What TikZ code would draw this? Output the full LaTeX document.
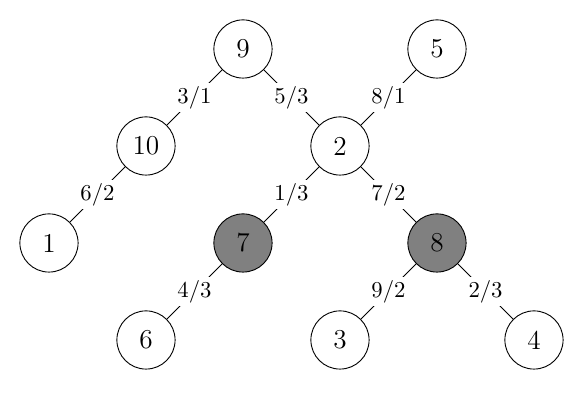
\documentclass[tikz,border=0pt]{standalone}
\usepackage{tikz}
\usepackage{xcolor}

\begin{document}
\begin{tikzpicture}[scale=1.5,
  vertex/.style={draw, circle, minimum size=0.9cm, inner sep=0pt, font=\large},
  marked/.style={vertex, fill=gray},
  weight/.style={fill=white, inner sep=1.5pt, midway}]

\useasboundingbox (-0.505,-1.619) rectangle (5.557,2.505);

% vertices
{
\node[vertex] (n9) at (2,2) {9};
\node[vertex] (n5) at (4,2) {5};

\node[vertex] (n10) at (1,1) {10};
\node[vertex] (n2) at (3,1) {2};

\node[vertex] (n1) at (0,0) {1};
\node[marked] (n7) at (2,0) {7};
\node[marked] (n8) at (4,0) {8};

\node[vertex] (n6) at (1,-1) {6};
\node[vertex] (n3) at (3,-1) {3};
\node[vertex] (n4) at (5,-1) {4};
}

% edges with weights
{
\draw (n9) -- (n10) node[weight] {3/1};
\draw (n9) -- (n2) node[weight] {5/3};
\draw (n5) -- (n2) node[weight] {8/1};

\draw (n10) -- (n1) node[weight] {6/2};
\draw (n2) -- (n7) node[weight] {1/3};
\draw (n2) -- (n8) node[weight] {7/2};

\draw (n7) -- (n6) node[weight] {4/3};
\draw (n8) -- (n3) node[weight] {9/2};
\draw (n8) -- (n4) node[weight] {2/3};
}

\end{tikzpicture}
\end{document}
